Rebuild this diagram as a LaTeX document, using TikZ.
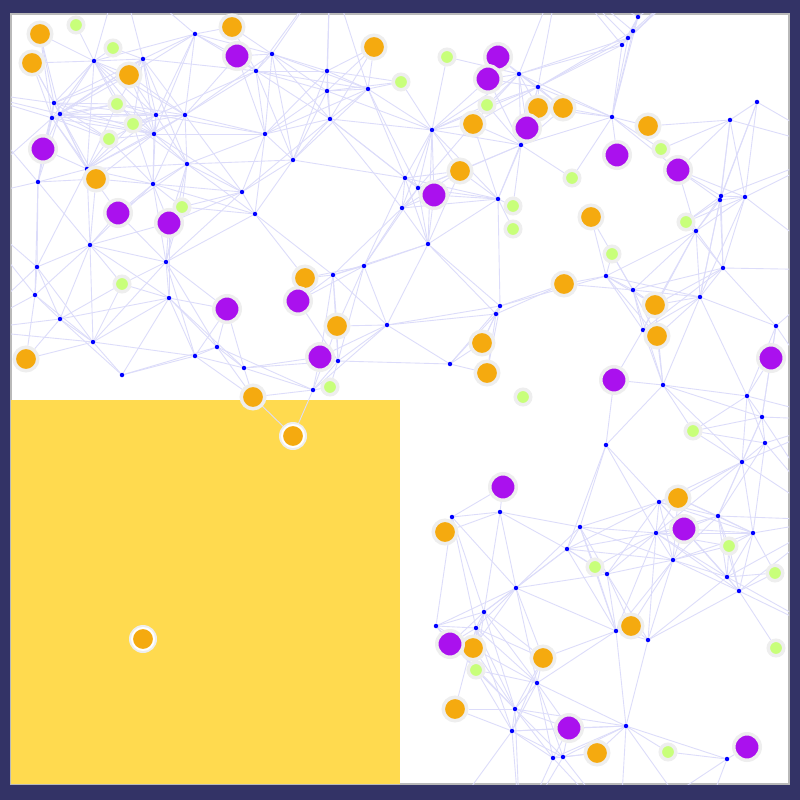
\documentclass[tikz,border=0pt]{standalone}
\usepackage{tikz}
\usetikzlibrary{backgrounds}
\definecolor{framenavy}{HTML}{333366}
\definecolor{fieldyellow}{HTML}{FFDA4F}
\definecolor{ballorange}{HTML}{F5AA0F}
\definecolor{ballpurple}{HTML}{AA11EE}
\definecolor{ballgreen}{HTML}{C8FF7A}
\definecolor{halo}{HTML}{EEEEEE}
\definecolor{linkblue}{HTML}{DCDCFA}

% positions in pixels of the 800x800 frame
\newcommand{\dotlist}{195/34, 94/61, 143/59, 54/103, 52/118, 60/114, 156/115, 185/115, 154/134, 187/164,
  87/169, 38/182, 153/184, 272/54, 256/71, 327/71, 327/91, 368/89, 330/119, 265/134,
  293/160, 242/192, 255/214, 90/245, 37/267, 35/295, 60/319, 93/342, 122/375, 166/262,
  169/298, 195/356, 217/347, 244/368, 313/390, 338/361, 387/325, 364/266, 333/275,
  519/74, 538/87, 432/130, 521/145, 405/178, 418/188, 498/199,
  638/17, 633/31, 628/38, 622/45, 612/117, 730/120, 757/102, 721/196, 745/197,
  402/208, 428/244, 500/306, 496/314, 450/364,
  720/200, 696/231, 723/268, 606/276, 633/290, 700/297, 643/330, 776/326, 663/385, 747/396,
  452/517, 500/512, 580/527, 567/549, 516/588,
  606/445, 762/417, 765/443, 742/462, 659/502, 718/516, 656/533, 753/533, 673/560, 607/574,
  727/577, 739/591, 484/612, 436/626, 476/628, 537/683, 515/709, 512/731, 553/758, 563/757,
  616/631, 648/640, 626/726, 727/759}
\newcommand{\farlist}{-40/90, -40/200, -30/330, 120/-30, 330/-30, 560/-30, 700/-30, 840/150,
  840/270, 840/420, 830/520, 840/640, 620/830, 520/830, 700/830, 440/830}
\newcommand{\orangelist}{40/34, 32/63, 232/27, 129/75, 374/47, 96/179, 305/278, 337/326, 26/359, 253/397,
  538/108, 563/108, 473/124, 648/126, 460/171, 591/217, 564/284, 655/305, 657/336, 482/343,
  487/373, 678/498, 445/532, 631/626, 473/648, 543/658, 455/709, 597/753}
\newcommand{\purplelist}{237/56, 43/149, 118/213, 169/223, 227/309, 298/301, 320/357, 498/57, 488/79, 527/128,
  617/155, 678/170, 434/195, 614/380, 771/358, 503/487, 684/529, 450/644, 569/728, 747/747}
\newcommand{\greenlist}{76/25, 113/48, 117/104, 133/124, 109/139, 182/207, 122/284, 401/82, 447/57, 487/105,
  572/178, 513/206, 513/229, 661/149, 686/222, 612/254, 330/387, 523/397, 693/431, 729/546,
  775/573, 595/567, 776/648, 476/670, 668/752}

% link every dot to the points of a list that lie close to it
\newcommand{\linknear}[3]{%
  \foreach \xa/\ya [count=\i] in \dotlist {
    \foreach \xb/\yb [count=\j] in #1 {
      \pgfmathsetmacro{\dd}{veclen((\xa-\xb)/100,(\ya-\yb)/100)}
      \ifdim\dd pt<#3pt \draw[link] (d\i) -- (#2\j); \fi
    }
  }}

\begin{document}
\begin{tikzpicture}[
    x=0.02cm, y=-0.02cm,
    link/.style={draw=linkblue, line width=0.5pt},
    dot/.style={circle, fill=blue, inner sep=0pt, minimum size=0.09cm},
    orangeball/.style={circle, fill=ballorange, draw=halo, line width=0.07cm, inner sep=0pt, minimum size=0.47cm},
    purpleball/.style={circle, fill=ballpurple, draw=halo, line width=0.07cm, inner sep=0pt, minimum size=0.53cm},
    greenball/.style={circle, fill=ballgreen, draw=halo, line width=0.07cm, inner sep=0pt, minimum size=0.31cm},
    ringball/.style={circle, fill=ballorange, draw=white, line width=0.04cm, inner sep=0pt, minimum size=0.44cm},
]
\useasboundingbox (0,0) rectangle (800,800);

% Dots and agents
\foreach \x/\y [count=\i] in \dotlist {\node[dot] (d\i) at (\x,\y) {};}
\foreach \x/\y [count=\i] in \farlist {\coordinate (h\i) at (\x,\y);}
\foreach \x/\y [count=\i] in \orangelist {\node[orangeball] (o\i) at (\x,\y) {};}
\foreach \x/\y [count=\i] in \purplelist {\node[purpleball] (p\i) at (\x,\y) {};}
\foreach \x/\y [count=\i] in \greenlist {\node[greenball] (g\i) at (\x,\y) {};}
\fill[halo] (293,436) circle[radius=14] (143,639) circle[radius=14];
\node[ringball] (r1) at (293,436) {};
\node[ringball] (r2) at (143,639) {};

\begin{pgfonlayer}{background}
  % Frame
  \fill[framenavy] (0,0) rectangle (800,800);
  \fill[white, draw=gray!55, line width=0.6pt] (11,14) rectangle (789,784);
  \begin{scope}
    \clip (11,14) rectangle (789,784);
    % Links
    \foreach \xa/\ya [count=\i] in \dotlist {
      \foreach \xb/\yb [count=\j] in \dotlist {
        \ifnum\j>\i
          \pgfmathsetmacro{\dd}{veclen((\xa-\xb)/100,(\ya-\yb)/100)}
          \ifdim\dd pt<1.15pt \draw[link] (d\i) -- (d\j); \fi
        \fi
      }
    }
    \linknear{\orangelist}{o}{0.85}
    \linknear{\purplelist}{p}{0.85}
    \linknear{\greenlist}{g}{0.75}
    \linknear{\farlist}{h}{1.3}
    % Yellow zone
    \fill[fieldyellow] (11,400) rectangle (400,784);
    \draw[link] (o10) -- (r1);
    \draw[link] (d35) -- (r1);
  \end{scope}
\end{pgfonlayer}
\end{tikzpicture}
\end{document}
